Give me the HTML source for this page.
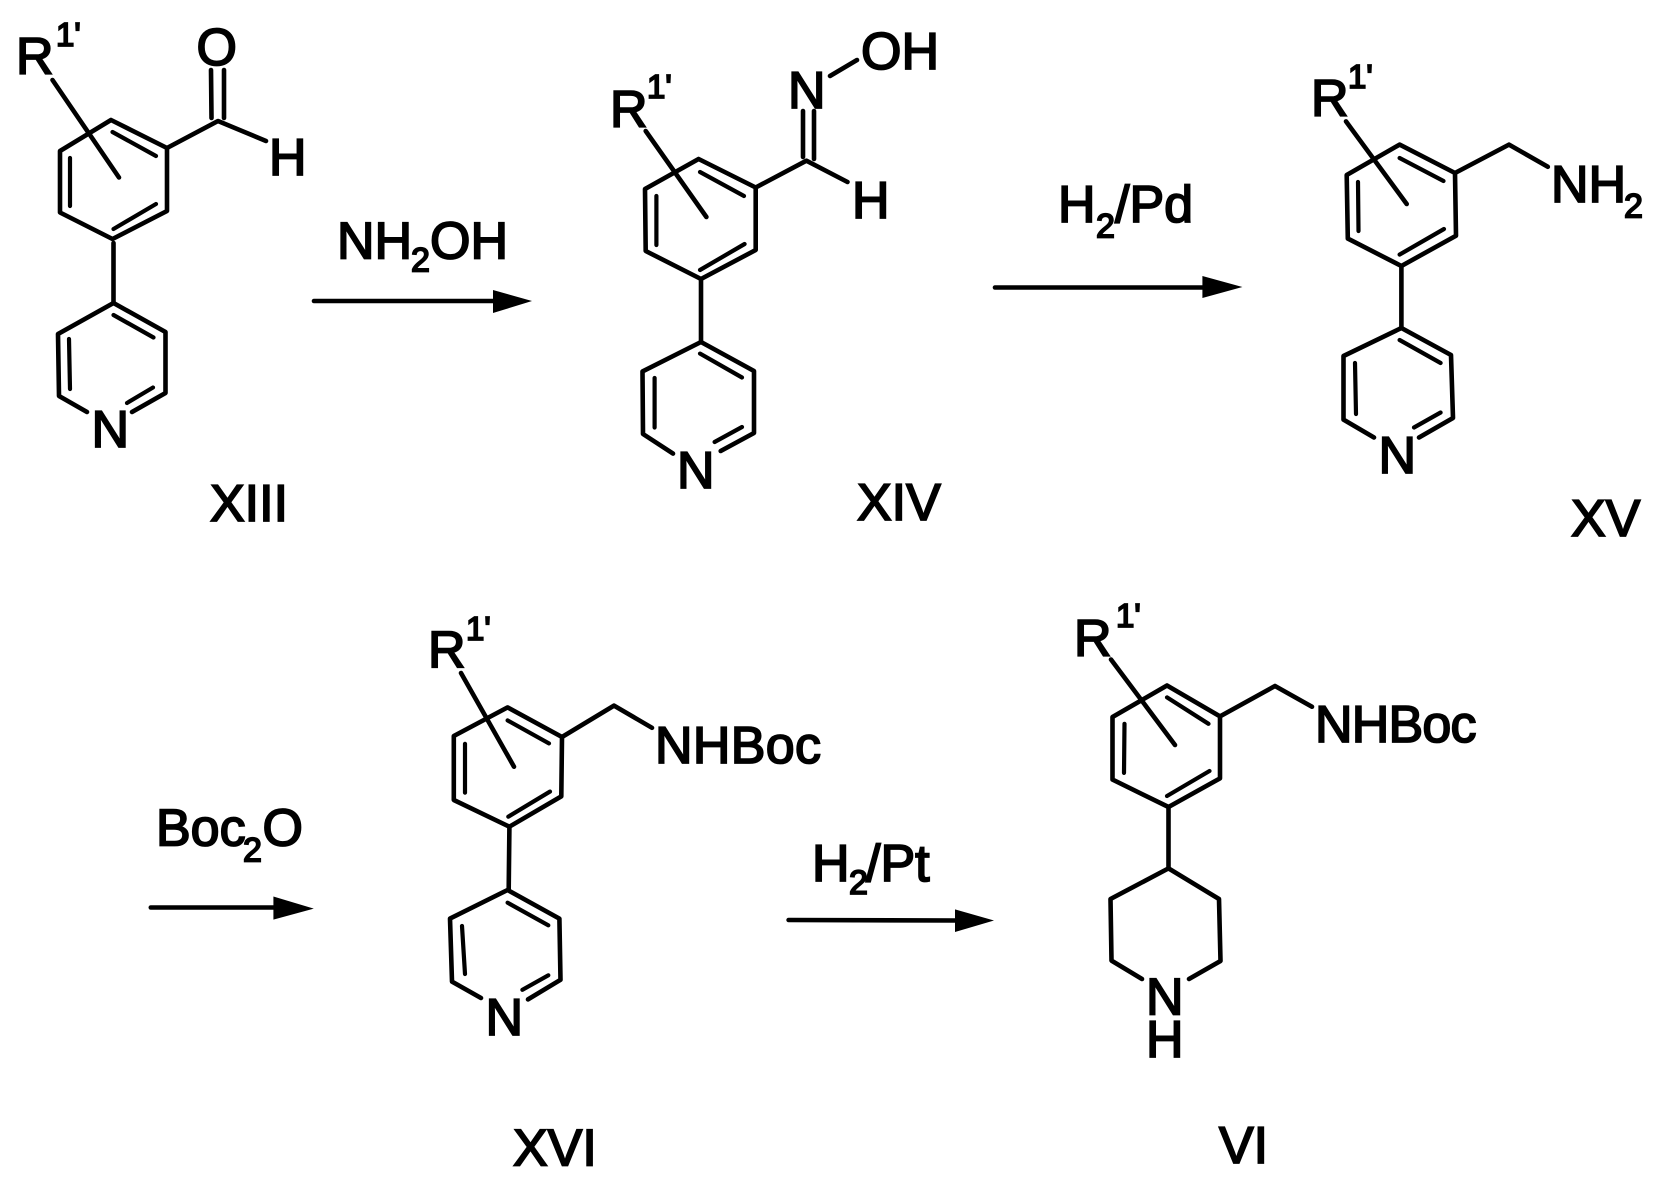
<!DOCTYPE html>
<html><head><meta charset="utf-8"><style>
html,body{margin:0;padding:0;background:#fff;width:1656px;height:1181px;overflow:hidden}
svg{display:block}
.b{fill:none;stroke:#000;stroke-width:4.6;stroke-linecap:round;stroke-linejoin:round}
.i{fill:none;stroke:#000;stroke-width:4.2;stroke-linecap:round}
text{font-family:"Liberation Sans",Arial,sans-serif;font-size:52px;fill:#000;stroke:#000;stroke-width:1.8}
.s{font-size:34px}.u{font-size:33px}
</style></head><body>
<svg width="1656" height="1181" viewBox="0 0 1656 1181" xmlns="http://www.w3.org/2000/svg">
<rect width="1656" height="1181" fill="#fff"/>
<!-- XIII -->
<g>
<polygon class="b" points="111,120 167,148 167,211 112.5,239 60,212.5 60,151"/>
<path class="i" d="M112.5,132L156,156M156,204L113.5,229M70,158L70,206"/>
<path class="b" d="M52.5,80L119,177.5M167,148L218,121L266,141M211,70L211.5,118M224,70L224,118M113.5,243L113.5,302"/>
<polyline class="b" points="132,412 165.5,393 165.5,332 113.5,303 58,334 59,396 87,412"/>
<path class="i" d="M113.5,315L153.5,337.5M69,339L70,389M127,403L153,387.5"/>
<text x="16" y="74">R</text><text class="u" x="56" y="46">1'</text>
<text x="196.5" y="65">O</text><text x="269" y="175">H</text><text x="91.5" y="447">N</text>
<text x="210" y="521">XIII</text>
</g>
<!-- arrow 1 -->
<text x="337" y="258.5">NH</text><text class="s" x="411" y="271.5">2</text><text x="430" y="258.5">OH</text>
<path class="b" d="M314,301L495,301"/><polygon points="493,290 532,301 493,313" fill="#000"/>
<!-- XIV -->
<g>
<polygon class="b" points="698.6,159 755.7,187.5 755.7,250 701,279 645.7,251 645,189"/>
<path class="i" d="M700,172L744,196M744.6,244L700,270M656.4,196L656.4,245"/>
<path class="b" d="M645.7,131L706.4,217M755.7,187.5L806.4,160.7L847.5,182M803,111L803,157M814,111L814,159M830,76L857,60M701,280L701,341"/>
<polyline class="b" points="720.7,451 754,433 754,371 701,342 642.5,371.4 643,434 673,453.6"/>
<path class="i" d="M700,353.6L742,377.5M654.6,378L654.6,427.5M714.6,442L742,427"/>
<text x="610" y="127">R</text><text class="u" x="647" y="98">1'</text>
<text x="788" y="108">N</text><text x="861" y="69">OH</text><text x="852" y="218">H</text><text x="677" y="488">N</text>
<text x="857" y="520">XIV</text>
</g>
<!-- arrow 2 -->
<text x="1058" y="222">H</text><text class="s" x="1096" y="237.5">2</text><text x="1115" y="222">/Pd</text>
<path class="b" d="M995,287.5L1204,287.5"/><polygon points="1202.4,276 1242.4,287 1202.4,298" fill="#000"/>
<!-- XV -->
<g>
<polygon class="b" points="1399.6,144.6 1455,173 1456,235.7 1401.4,266 1347.8,238.6 1346.7,175"/>
<path class="i" d="M1399.6,158L1443.5,181M1444,229L1399.6,254.6M1358,182L1358.5,231"/>
<path class="b" d="M1346,121.4L1406.7,204M1455,173L1509,144.6L1547.8,166.8M1401.4,267L1401.4,327"/>
<polyline class="b" points="1419,437.5 1453,418 1451,355 1401.4,328 1343.5,356 1343.5,419.6 1374,437.5"/>
<path class="i" d="M1399.6,340L1440.6,363M1355,363L1356,414M1414,427.5L1440.6,412.5"/>
<text x="1311" y="116">R</text><text class="u" x="1348" y="88">1'</text>
<text x="1551" y="202">NH</text><text class="s" x="1624" y="217.5">2</text><text x="1378.5" y="473">N</text>
<text x="1571" y="536">XV</text>
</g>
<!-- arrow 3 -->
<text x="156" y="845.5">Boc</text><text class="s" x="243" y="861.5">2</text><text x="262.5" y="845.5">O</text>
<path class="b" d="M150.8,907.5L275,907.5"/><polygon points="273.4,896.5 313.8,908.6 273.4,919.6" fill="#000"/>
<!-- XVI -->
<g>
<polygon class="b" points="507.6,707.4 562,737 561.3,796.4 509.4,826.7 453.8,800 453.8,736"/>
<path class="i" d="M507.6,720.4L549,743.4M550,791.6L508.3,816.7M465,743.8L465,792.7"/>
<path class="b" d="M461,673L514,766.7M562,737L614,705.6L652,727.8M509.4,828L508.7,889"/>
<polyline class="b" points="528,999.4 560.5,979.8 559.4,918.6 507.6,890 450,918.6 452,981.6 481,998"/>
<path class="i" d="M507.6,902.7L548.3,925.3M462,926L465,974M522.4,989.8L548.3,975.3"/>
<text x="428" y="667.5">R</text><text class="u" x="466" y="640">1'</text>
<text x="655" y="763" textLength="166">NHBoc</text><text x="485.5" y="1035">N</text>
<text x="513" y="1165.5">XVI</text>
</g>
<!-- arrow 4 -->
<text x="812" y="881">H</text><text class="s" x="849" y="894">2</text><text x="866" y="881">/Pt</text>
<path class="b" d="M788.6,920L957,920.5"/><polygon points="955,909.4 994,920.5 955,932" fill="#000"/>
<!-- VI -->
<g>
<polygon class="b" points="1167,685.5 1220,716.4 1220,778.4 1168.5,807 1112.5,779.6 1112.5,717"/>
<path class="i" d="M1167,697.4L1208.5,723.8M1209.5,771L1167,796M1124.5,723.8L1124,772.9"/>
<path class="b" d="M1111,659.5L1175,745M1220,716.4L1275,686L1312,706.7M1168.5,808L1168.5,867.7"/>
<polyline class="b" points="1189,979 1220.5,961 1219,899 1168.5,868.4 1110.5,899 1111.5,960.6 1142,979"/>
<text x="1074" y="656">R</text><text class="u" x="1116" y="627">1'</text>
<text x="1315" y="742" textLength="161.5">NHBoc</text><text x="1146" y="1014.5">N</text><text x="1146" y="1057">H</text>
<text x="1219" y="1163">VI</text>
</g>
</svg>
</body></html>
